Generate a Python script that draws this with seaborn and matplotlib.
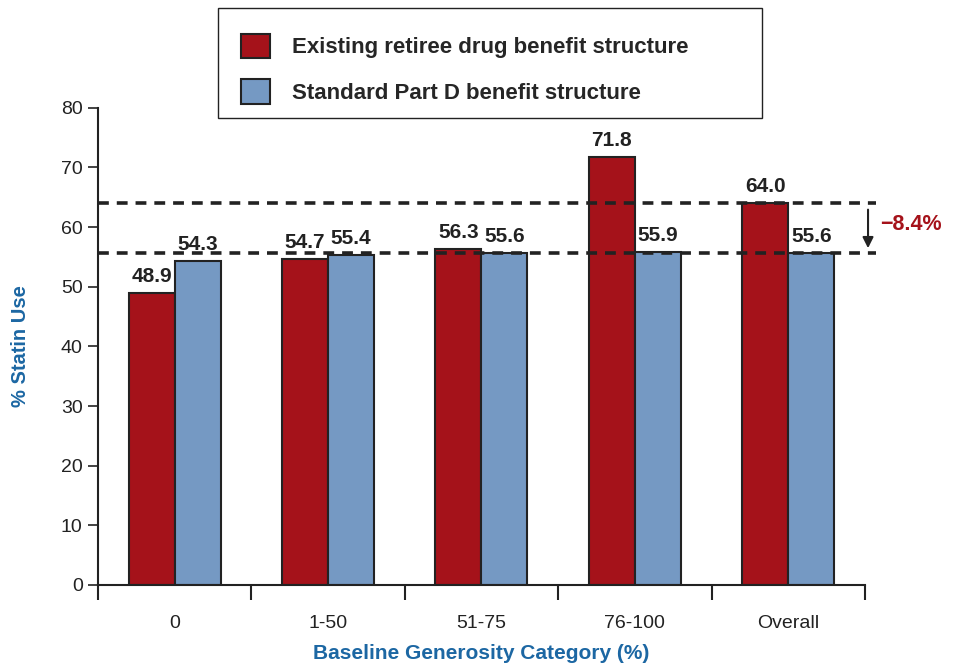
import matplotlib
matplotlib.use('Agg')
import matplotlib.pyplot as plt
from matplotlib.patches import Rectangle
from matplotlib.ticker import FixedLocator
import seaborn as sns
import pandas as pd

categories = ['0', '1-50', '51-75', '76-100', 'Overall']
existing = [48.9, 54.7, 56.3, 71.8, 64.0]
standard = [54.3, 55.4, 55.6, 55.9, 55.6]
series_names = ['Existing retiree drug benefit structure', 'Standard Part D benefit structure']
diff_label = '\u22128.4%'

RED = '#A5121A'
BLUE = '#7599C3'
AXBLUE = '#1C67A3'
EDGE = '#222222'

sns.set_style('white')
plt.rcParams['font.family'] = ['Liberation Sans', 'DejaVu Sans']

df = pd.DataFrame({
    'category': categories * 2,
    'value': existing + standard,
    'series': [series_names[0]] * len(categories) + [series_names[1]] * len(categories),
})

fig = plt.figure(figsize=(9.6, 6.7), dpi=100)
ax = fig.add_axes([0.102, 0.127, 0.799, 0.712])

sns.barplot(data=df, x='category', y='value', hue='series', order=categories,
            hue_order=series_names, palette=[RED, BLUE], width=0.6,
            edgecolor=EDGE, linewidth=1.5, saturation=1, ax=ax)

handles, labels = ax.get_legend_handles_labels()
ax.get_legend().remove()

for cont in ax.containers:
    ax.bar_label(cont, fmt='%.1f', padding=5, fontsize=15, fontweight='bold', color='#222222')

ax.set_xlim(-0.5, 4.5)
ax.set_ylim(0, 80)
ax.set_yticks(range(0, 81, 10))
ax.tick_params(axis='y', left=True, direction='out', length=7, width=1.2,
               labelsize=14, colors='#222222', pad=4)
ax.tick_params(axis='x', which='major', bottom=True, length=0, pad=22,
               labelsize=14, labelcolor='#222222')
ax.xaxis.set_minor_locator(FixedLocator([i - 0.5 for i in range(len(categories) + 1)]))
ax.tick_params(axis='x', which='minor', bottom=True, direction='out', length=11,
               width=1.5, color='#222222')

for s in ['top', 'right']:
    ax.spines[s].set_visible(False)
for s in ['left', 'bottom']:
    ax.spines[s].set_color('#222222')
    ax.spines[s].set_linewidth(1.5)

ax.set_xlabel('Baseline Generosity Category (%)', fontsize=15, fontweight='bold',
              color=AXBLUE, labelpad=8)
ax.set_ylabel('% Statin Use', fontsize=14.5, fontweight='bold', color=AXBLUE, labelpad=22)

# reference lines for overall values
top_val = existing[-1]
low_val = standard[-1]
for v in [top_val, low_val]:
    ax.plot([-0.5, 4.57], [v, v], color='#222222', lw=2.6, ls=(0, (3, 2.2)),
            clip_on=False, zorder=5)

ax.annotate('', xy=(4.52, low_val + 0.4), xytext=(4.52, top_val - 0.6),
            arrowprops=dict(arrowstyle='-|>', color='#222222', lw=1.5,
                            mutation_scale=16), annotation_clip=False)
ax.text(4.6, (top_val + low_val) / 2 + 0.6, diff_label, color=RED, fontsize=15.5,
        fontweight='bold', va='center', ha='left', clip_on=False)

# legend with box
fig.patches.append(Rectangle((218 / 960, 1 - 118 / 670), 544 / 960, 110 / 670,
                             transform=fig.transFigure, fill=False,
                             edgecolor='#222222', lw=1.0))
fig.legend(handles, labels, loc='upper left', bbox_to_anchor=(223 / 960, 1 - 16 / 670),
           frameon=False, prop={'weight': 'bold', 'size': 16},
           handlelength=1.3, handleheight=1.3, handletextpad=1.0, labelspacing=0.95,
           borderpad=0.3)

fig.savefig('out.png', dpi=100)
